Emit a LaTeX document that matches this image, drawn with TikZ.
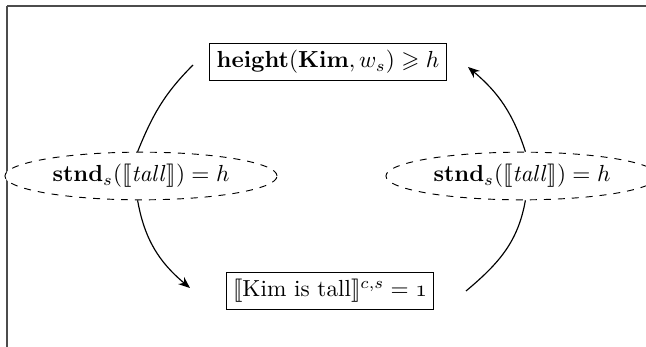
\documentclass[tikz,border=0pt]{standalone}
\usepackage{amsmath,amssymb,stmaryrd}
\usetikzlibrary{shapes.geometric,arrows.meta}
\begin{document}
\begin{tikzpicture}[x=0.43pt,y=-0.43pt,
  box/.style={draw,rectangle,inner sep=3pt},
  ell/.style={draw,dashed,ellipse,fill=white,minimum width=117pt,minimum height=20.5pt,inner sep=0pt},
  link/.style={line width=0.5pt},
  tip/.style={-{Stealth[length=5pt,width=4pt]}}]
\useasboundingbox (0,0) rectangle (646,347);
\draw[black!70,line width=0.5pt] (7,6) -- (660,6);
\draw[black!70,line width=0.5pt] (7,6) -- (7,360);
\node[box] (top) at (328,62) {$\mathbf{height}(\mathbf{Kim},w_s)\geqslant h$};
\node[box] (bot) at (330,291) {$\llbracket\text{Kim is tall}\rrbracket^{c,s}=\oldstylenums{1}$};
\node[ell] (ellL) at (141,176) {$\mathbf{stnd}_s(\llbracket \mathit{tall}\rrbracket)=h$};
\node[ell] (ellR) at (522,176) {$\mathbf{stnd}_s(\llbracket \mathit{tall}\rrbracket)=h$};
\coordinate (tl) at (193,65);
\coordinate (bl) at (190,288);
\coordinate (br) at (466,291);
\coordinate (tr) at (468,67);
\draw[link] (tl) to[out=225,in=68] (ellL.98);
\draw[link,tip] (ellL.-98) to[out=-80,in=140] (bl);
\draw[link] (br) to[out=40,in=-100] (ellR.-82);
\draw[link,tip] (ellR.82) to[out=108,in=-40] (tr);
\end{tikzpicture}
\end{document}
